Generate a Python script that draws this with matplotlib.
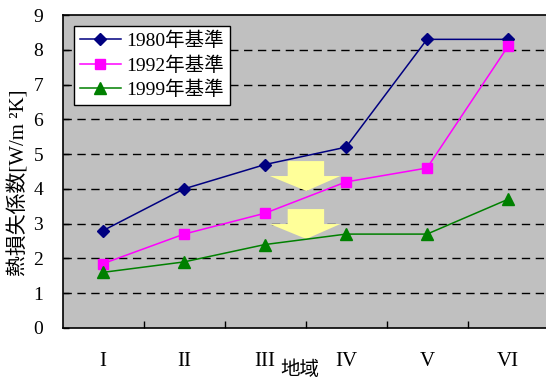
import matplotlib
matplotlib.use("Agg")
import matplotlib.pyplot as plt
from matplotlib.patches import Polygon

regions = ["I", "II", "III", "IV", "V", "VI"]
s1980 = [2.8, 4.0, 4.7, 5.2, 8.3, 8.3]
s1992 = [1.85, 2.7, 3.3, 4.2, 4.6, 8.1]
s1999 = [1.6, 1.9, 2.4, 2.7, 2.7, 3.7]
labels = ["1980年基準", "1992年基準", "1999年基準"]
yticks = list(range(0, 10))

SERIF = ["Liberation Serif", "Noto Sans CJK JP", "DejaVu Sans"]
plt.rcParams['font.family'] = SERIF

fig = plt.figure(figsize=(5.46, 3.79), dpi=100)
W, H = 546, 379
left, right, top, bottom = 62.5, 548.5, 15, 328
ax = fig.add_axes([left / W, 1 - bottom / H, (right - left) / W, (bottom - top) / H])
ax.set_facecolor("#C0C0C0")

x = list(range(len(regions)))
ax.plot(x, s1980, color="#000080", marker="D", markersize=6.5, lw=1.1, label=labels[0], zorder=5)
ax.plot(x, s1992, color="#FF00FF", marker="s", markersize=7, lw=1.1, label=labels[1], zorder=5)
ax.plot(x, s1999, color="#008000", marker="^", markersize=8, lw=1.1, label=labels[2], zorder=5)

ax.set_xlim(-0.5, len(regions) - 0.5)
ax.set_ylim(0, 9)
ax.set_yticks(yticks)
ax.set_yticklabels([str(v) for v in yticks], fontsize=14)
ax.set_xticks(x)
ax.set_xticklabels(regions, fontsize=15)
ax.set_xticks([i + 0.5 for i in x[:-1]], minor=True)
ax.tick_params(axis="x", which="major", length=0, pad=17)
ax.tick_params(axis="x", which="minor", direction="in", length=5, width=1)
ax.tick_params(axis="y", which="major", direction="in", length=4, width=1, pad=14)

for v in yticks[1:-1]:
    ax.axhline(v, color="black", lw=1, ls=(0, (6, 4)), zorder=1)

for side in ["left", "bottom", "top"]:
    ax.spines[side].set_color("black")
    ax.spines[side].set_linewidth(1.2)
ax.spines["right"].set_visible(False)

# yellow downward arrows (decoration)
def arrow(ytop, yhead, ytip):
    bx0, bx1 = 2.28, 2.73
    hx0, hx1, tx = 2.06, 2.93, 2.51
    pts = [(bx0, ytop), (bx1, ytop), (bx1, yhead), (hx1, yhead), (tx, ytip),
           (hx0, yhead), (bx0, yhead)]
    ax.add_patch(Polygon(pts, closed=True, facecolor="#FFFF99", edgecolor="none", zorder=3))

arrow(4.80, 4.37, 3.94)
arrow(3.42, 2.99, 2.56)

ax.set_ylabel("熱損失係数[W/m ²K]", fontsize=15)
ax.yaxis.set_label_coords((30 - left) / (right - left), (328 - 183) / (bottom - top))
ax.set_xlabel("地域", fontsize=14)
ax.xaxis.set_label_coords((300 - left) / (right - left), -0.105)

leg = ax.legend(loc="upper left", bbox_to_anchor=(11.5 / (right - left), 1 - 11 / (bottom - top)),
                fontsize=14, frameon=True, fancybox=False, handlelength=2.1,
                borderpad=0.3, labelspacing=0.3, handletextpad=0.3, borderaxespad=0)
leg.get_frame().set_edgecolor("black")
leg.get_frame().set_facecolor("white")
leg.get_frame().set_linewidth(1)
leg.get_frame().set_alpha(1)

fig.savefig("out.png", dpi=100)
